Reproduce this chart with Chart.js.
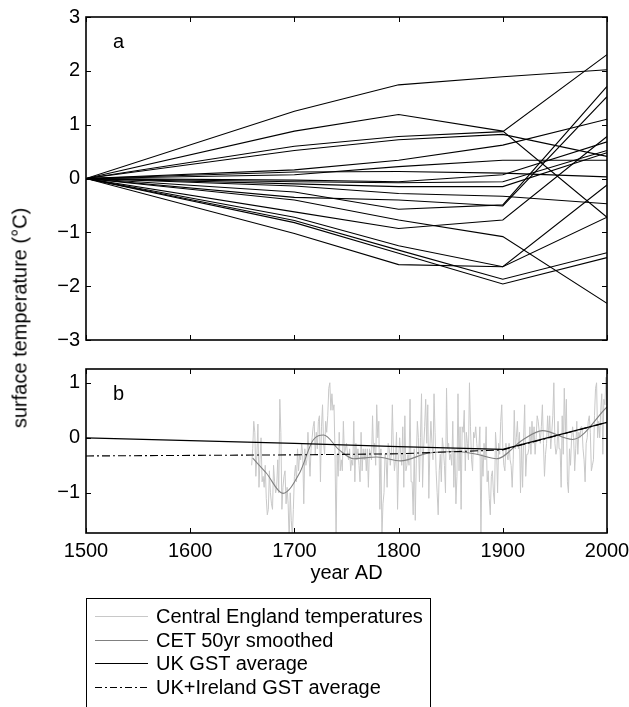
<!DOCTYPE html>
<html>
<head>
<meta charset="utf-8">
<script src="https://cdn.jsdelivr.net/npm/chart.js@4.4.1/dist/chart.umd.min.js"></script>
<style>
  html, body { margin: 0; padding: 0; background: #fff; }
  #wrap { position: relative; width: 629px; height: 707px; overflow: hidden; background: #fff;
          font-family: 'Liberation Sans', Arial, sans-serif; color: #000; }
  canvas { position: absolute; left: 0; }
  #ylabel { position: absolute; left: 20px; top: 318px; font-size: 20px; white-space: nowrap;
            transform: translate(-50%, -50%) rotate(-90deg); }
  .tag { position: absolute; left: 113px; font-size: 20px; line-height: 20px; }
  #legend { position: absolute; left: 86px; top: 598px; width: 345px; height: 130px;
            border: 1.5px solid #000; box-sizing: border-box; }
  .row { position: absolute; left: 0; height: 24px; line-height: 24px; font-size: 20px; white-space: nowrap; }
  .row svg { position: absolute; left: 8px; top: 7px; }
  .row span { position: absolute; left: 69px; top: 0; }
</style>
</head>
<body>
<div id="wrap">
  <canvas id="chartA" width="629" height="360" style="top:0"></canvas>
  <canvas id="chartB" width="629" height="245" style="top:355px"></canvas>
  <div id="ylabel">surface temperature (°C)</div>
  <div class="tag" style="top:31px">a</div>
  <div class="tag" style="top:383px">b</div>
  <div id="legend"></div>
</div>
<script>
// ---------- data ----------
const xTicks = [1500, 1600, 1700, 1800, 1900, 2000];
const yTicksA = [-3, -2, -1, 0, 1, 2, 3];
const yTicksB = [-1, 0, 1];

// panel a: individual GST reconstructions, values at these years
const profileYears = [1500, 1700, 1800, 1900, 2000];
const profiles = [
  [0, 1.25, 1.74, 1.89, 2.02],
  [0, 0.88, 1.19, 0.88, -0.72],
  [0, 0.60, 0.78, 0.87, 2.30],
  [0, 0.52, 0.72, 0.82, 0.41],
  [0, 0.16, 0.34, 0.62, 1.10],
  [0, 0.07, 0.22, 0.34, 0.34],
  [0, 0.12, 0.13, 0.10, 0.03],
  [0, -0.03, -0.06, 0.07, 0.68],
  [0, -0.06, -0.08, -0.06, 0.52],
  [0, -0.10, -0.15, -0.15, 0.48],
  [0, -0.14, -0.28, -0.33, -0.47],
  [0, -0.25, -0.57, -0.49, 1.71],
  [0, -0.35, -0.40, -0.51, 1.52],
  [0, -0.62, -0.93, -0.77, 0.78],
  [0, -0.40, -0.77, -1.08, -2.32],
  [0, -1.02, -1.60, -1.64, -0.12],
  [0, -0.72, -1.25, -1.64, -0.72],
  [0, -0.78, -1.33, -1.87, -1.38],
  [0, -0.82, -1.39, -1.96, -1.47]
];

// panel b: averages
const gstYears = [1500, 1700, 1800, 1900, 2000];
const ukGst = [0, -0.10, -0.16, -0.21, 0.28];
const ukIrelandGst = [-0.33, -0.31, -0.29, -0.22, 0.28];

// CET 50yr smoothed
const smoothYears = [1660, 1673, 1689, 1705, 1718, 1728, 1743, 1757, 1779, 1802, 1828, 1854, 1875, 1894, 1919, 1938, 1967, 2000];
const smoothValues = [-0.37, -0.64, -1.01, -0.64, -0.04, 0.05, -0.22, -0.38, -0.35, -0.42, -0.28, -0.25, -0.30, -0.38, -0.04, 0.13, -0.03, 0.56];

// Central England annual anomalies, 1659-2000
const cetStart = 1659;
const cetValues = [
  -0.5, -0.2, 0.3, 0.1, -0.7, -0.3, 0.25, -0.9, -0.4, 0.0, -0.8,
  -0.7, -0.9, -0.5, -1.1, -1.4, -1.3, -0.6, -1.0, -1.2, -1.3,
  -0.5, -0.8, -1.0, -0.9, -0.4, -1.0, 0.7, 0.1, -1.3, -0.9,
  -0.7, -0.6, -1.2, -0.9, -1.2, -1.9, -1.0, -1.5, -1.8, -1.3,
  -0.7, -0.5, -0.8, -0.2, -0.6, -0.3, -0.4, -0.1, -0.3, -1.2,
  -0.2, -0.5, -0.4, 0.1, -0.3, -0.7, -0.2, 0.0, 0.2, 0.3,
  -0.3, 0.1, -0.2, 0.3, 0.4, -0.8, 0.2, 0.6, -0.1, -0.3,
  0.3, 0.1, 0.4, 0.9, 1.0, 0.5, 0.8, 0.5, 0.6, -0.3,
  -1.9, -0.3, -0.7, 0.1, -0.6, -0.4, -0.6, 0.3, -0.3, -0.2,
  -0.1, -0.3, -0.4, -0.2, -0.6, -0.4, -0.5, 0.3, -0.8, -0.1,
  -0.4, -0.2, -0.5, -0.8, 0.1, -0.6, -0.2, -0.4, -0.2, -0.6,
  -0.2, -0.9, -0.2, -0.3, -0.4, 0.4, -0.3, -0.1, -0.5, 0.6,
  0.0, 0.3, -1.3, -0.2, -1.8, -1.2, -1.0, -0.3, -0.4, -0.9,
  -0.1, -0.2, -0.5, -0.3, 0.6, -0.2, -0.6, -0.4, 0.1, -1.3,
  -0.4, 0.0, -0.3, -0.5, 0.2, -0.9, 0.4, -0.6, -0.5, -0.3,
  -0.5, 0.7, -0.8, -0.8, -1.4, -0.2, -1.5, -0.4, 0.3, 0.0,
  -0.8, 0.0, 0.8, -0.9, -0.2, 0.2, 0.7, -0.1, 0.6, -1.1,
  -0.2, 0.3, -0.1, -0.4, 0.8, 0.1, -0.6, -1.0, -1.4, -0.6,
  -0.3, -0.8, 0.0, -0.2, -0.5, -1.0, 0.9, -0.2, -0.1, -0.4,
  -0.3, -0.5, 0.3, -0.9, -0.2, -1.2, -0.7, 0.8, -0.6, 0.2,
  -1.3, 0.2, 0.1, 0.5, -0.6, 0.1, -0.1, -0.4, 1.0, 0.2,
  -0.4, -0.6, 0.1, 0.0, 0.2, -0.1, -0.3, -0.2, 0.2, -1.9,
  -0.3, -0.7, -0.1, -0.4, 0.2, -0.8, -0.6, -1.1, -1.4, -0.7,
  -0.6, -1.0, -1.2, 0.1, -0.2, -1.0, -0.1, -0.3, 0.3, 0.6,
  -0.2, -0.5, -0.6, -0.1, -0.3, -0.4, -0.1, -0.4, -0.5, -0.9,
  -0.4, 0.5, -0.2, 0.0, 0.3, -0.2, 0.1, -1.0, -0.1, -0.9,
  0.0, 0.6, -0.7, -0.3, -0.3, -0.2, 0.2, -0.3, 0.3, -0.1,
  0.2, -0.3, 0.0, 0.4, 0.3, 0.1, -0.1, 0.2, 0.6, -0.1,
  -0.7, -0.3, -0.1, 0.4, 0.0, 0.4, -0.2, 0.1, 0.4, 1.0,
  -0.1, -0.3, -0.2, 0.3, -0.2, -0.2, -0.9, 0.4, -0.3, 0.9,
  0.1, 0.7, -0.8, -1.0, -0.2, -0.5, 0.0, 0.2, 0.0, -0.6,
  -0.2, 0.3, -0.3, 0.1, 0.0, 0.2, 0.2, -0.2, -0.4, -0.8,
  -0.1, 0.0, 0.3, 0.4, 0.1, -0.6, -0.5, -0.4, 0.4, 0.9,
  1.0, 0.0, 0.3, 0.0, 0.5, 0.8, -0.3, 0.7, 0.6, 1.1,
  0.6
];

const legendItems = [
  { label: 'Central England temperatures', color: '#c8c8c8', dash: '' },
  { label: 'CET 50yr smoothed', color: '#808080', dash: '' },
  { label: 'UK GST average', color: '#000', dash: '' },
  { label: 'UK+Ireland GST average', color: '#000', dash: '7 3 2 3' }
];

// ---------- helpers ----------
const pts = (xs, ys) => xs.map((x, i) => ({ x, y: ys[i] }));
const minus = v => String(v).replace('-', '\u2212');
const setTicks = list => scale => { scale.ticks = list.map(value => ({ value })); };
const noOverflow = (dim, size) => s => {
  s[dim] = size;
  s.paddingLeft = 0; s.paddingRight = 0; s.paddingTop = 0; s.paddingBottom = 0;
};

Chart.defaults.font.family = "'Liberation Sans', Arial, sans-serif";
Chart.defaults.font.size = 20;
Chart.defaults.color = '#000';

// box + inward tick marks on all four sides (matlab style)
const boxTicks = {
  id: 'boxTicks',
  afterDraw(chart) {
    const { ctx, chartArea: a, scales } = chart;
    const len = 5;
    ctx.save();
    ctx.strokeStyle = '#000';
    ctx.lineWidth = 1;
    ctx.beginPath();
    scales.x.ticks.forEach(t => {
      const p = Math.round(scales.x.getPixelForValue(t.value)) + 0.5;
      ctx.moveTo(p, a.bottom); ctx.lineTo(p, a.bottom - len);
      ctx.moveTo(p, a.top); ctx.lineTo(p, a.top + len);
    });
    scales.y.ticks.forEach(t => {
      const p = Math.round(scales.y.getPixelForValue(t.value)) + 0.5;
      ctx.moveTo(a.left, p); ctx.lineTo(a.left + len, p);
      ctx.moveTo(a.right, p); ctx.lineTo(a.right - len, p);
    });
    ctx.stroke();
    ctx.lineWidth = 1.6;
    ctx.strokeRect(a.left, a.top, a.right - a.left, a.bottom - a.top);
    ctx.restore();
  }
};

const baseOptions = pad => ({
  responsive: false,
  animation: false,
  events: [],
  layout: { padding: pad },
  plugins: { legend: { display: false }, tooltip: { enabled: false } },
  elements: { point: { radius: 0 }, line: { tension: 0 } }
});

// ---------- panel a ----------
const optsA = baseOptions({ top: 17, right: 22, left: 0, bottom: 0 });
optsA.scales = {
  x: {
    type: 'linear', min: 1500, max: 2000,
    afterBuildTicks: setTicks(xTicks),
    afterFit: noOverflow('height', 20),
    grid: { display: false, drawTicks: false },
    border: { display: false },
    ticks: { display: false }
  },
  y: {
    type: 'linear', min: -3, max: 3,
    afterBuildTicks: setTicks(yTicksA),
    afterFit: noOverflow('width', 86),
    grid: { display: false, drawTicks: false },
    border: { display: false },
    ticks: { padding: 6, callback: minus }
  }
};

new Chart(document.getElementById('chartA'), {
  type: 'line',
  data: {
    datasets: profiles.map(p => ({
      data: pts(profileYears, p),
      borderColor: '#000',
      borderWidth: 1.1,
      pointRadius: 0
    }))
  },
  options: optsA,
  plugins: [boxTicks]
});

// ---------- panel b ----------
const optsB = baseOptions({ top: 14, right: 22, left: 0, bottom: 11 });
optsB.scales = {
  x: {
    type: 'linear', min: 1500, max: 2000,
    afterBuildTicks: setTicks(xTicks),
    afterFit: noOverflow('height', 56),
    grid: { display: false, drawTicks: false },
    border: { display: false },
    ticks: { padding: 6, maxRotation: 0, callback: v => String(v) },
    title: { display: true, text: 'year AD', padding: { top: 0, bottom: 4 } }
  },
  y: {
    type: 'linear', min: -1.73, max: 1.25,
    afterBuildTicks: setTicks(yTicksB),
    afterFit: noOverflow('width', 86),
    grid: { display: false, drawTicks: false },
    border: { display: false },
    ticks: { padding: 6, callback: minus }
  }
};

new Chart(document.getElementById('chartB'), {
  type: 'line',
  data: {
    datasets: [
      { data: pts(gstYears, ukGst), borderColor: '#000', borderWidth: 1.3 },
      { data: pts(gstYears, ukIrelandGst), borderColor: '#000', borderWidth: 1.1, borderDash: [8, 3, 2, 3] },
      { data: pts(smoothYears, smoothValues), borderColor: '#808080', borderWidth: 1.1,
        cubicInterpolationMode: 'monotone' },
      { data: cetValues.map((v, i) => ({ x: cetStart + i, y: v })), borderColor: '#c8c8c8', borderWidth: 1 }
    ]
  },
  options: optsB,
  plugins: [boxTicks]
});

// ---------- legend ----------
const legend = document.getElementById('legend');
legendItems.forEach((item, i) => {
  const row = document.createElement('div');
  row.className = 'row';
  row.style.top = (5 + i * 23.7) + 'px';
  row.innerHTML =
    `<svg width="54" height="11"><line x1="0" y1="5.5" x2="53" y2="5.5" stroke="${item.color}" stroke-width="1"` +
    (item.dash ? ` stroke-dasharray="${item.dash}"` : '') + `/></svg><span>${item.label}</span>`;
  legend.appendChild(row);
});
</script>
</body>
</html>
